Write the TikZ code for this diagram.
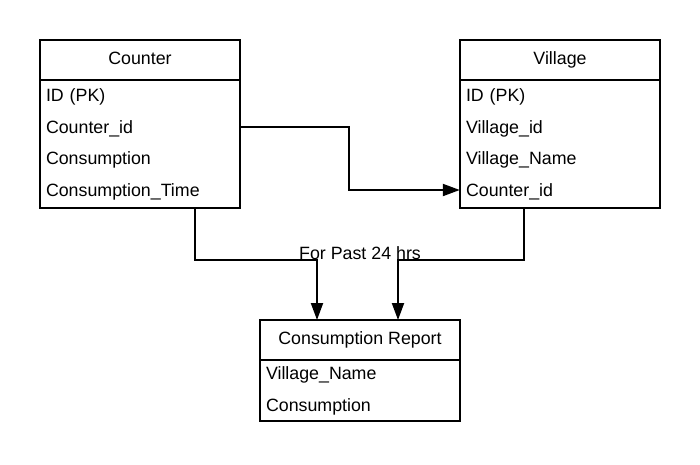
\documentclass[tikz,border=0pt]{standalone}
\usepackage{fontspec}
\setmainfont{Liberation Sans}
\usepackage{tikz}
\usetikzlibrary{arrows.meta}
\tikzset{
    every node/.style={font=\fontsize{17.8}{20}\selectfont, inner sep=0pt}
}
\tikzset{
    tbl/.style={draw, line width=2pt, minimum width=200pt},
    head/.style={text height=12.5pt, text depth=0pt},
    row/.style={text width=188pt, align=left, inner xsep=6pt,
    	text height=12.5pt, text depth=0pt},
    sep/.style={line width=2pt},
    conn/.style={line width=2pt, -{Triangle[length=17pt, width=12pt]}}
}

\begin{document}
\begin{tikzpicture}[x=1pt, y=-1pt]
  \useasboundingbox (0,0) rectangle (700,464);

  \node (counter) [tbl, minimum height=168pt] at (140,124) {};
  \node (counterhd) [head] at (140,58) {Counter};
  \draw [sep] (40,80) -- (240,80);
  \node (c1) [row] at (140,95) {ID (PK)};
  \node (c2) [row] at (140,127) {Counter\_id};
  \node (c3) [row] at (140,158) {Consumption};
  \node (c4) [row] at (140,190) {Consumption\_Time};

  \node (village) [tbl, minimum height=168pt] at (560,124) {};
  \node (villagehd) [head] at (560,58) {Village};
  \draw [sep] (460,80) -- (660,80);
  \node (v1) [row] at (560,95) {ID (PK)};
  \node (v2) [row] at (560,127) {Village\_id};
  \node (v3) [row] at (560,158) {Village\_Name};
  \node (v4) [row] at (560,190) {Counter\_id};

  \node (report) [tbl, minimum height=101pt] at (360,370.5) {};
  \node (reporthd) [head] at (360,338) {Consumption Report};
  \draw [sep] (260,360) -- (460,360);
  \node (r1) [row] at (360,373) {Village\_Name};
  \node (r2) [row] at (360,405) {Consumption};

  \coordinate (cout) at (195,208);
  \coordinate (vout) at (524,208);
  \coordinate (rin1) at (317,320);
  \coordinate (rin2) at (398,320);
  \node (lbl) [anchor=base] at (360,259) {For Past 24 hrs};

  \draw [conn] (c2.east) -- ++(109,0) |- (v4.west);
  \draw [conn] (cout) -- ++(0,52) -| (rin1);
  \draw [conn] (vout) -- ++(0,52) -| (rin2);
\end{tikzpicture}
\end{document}
